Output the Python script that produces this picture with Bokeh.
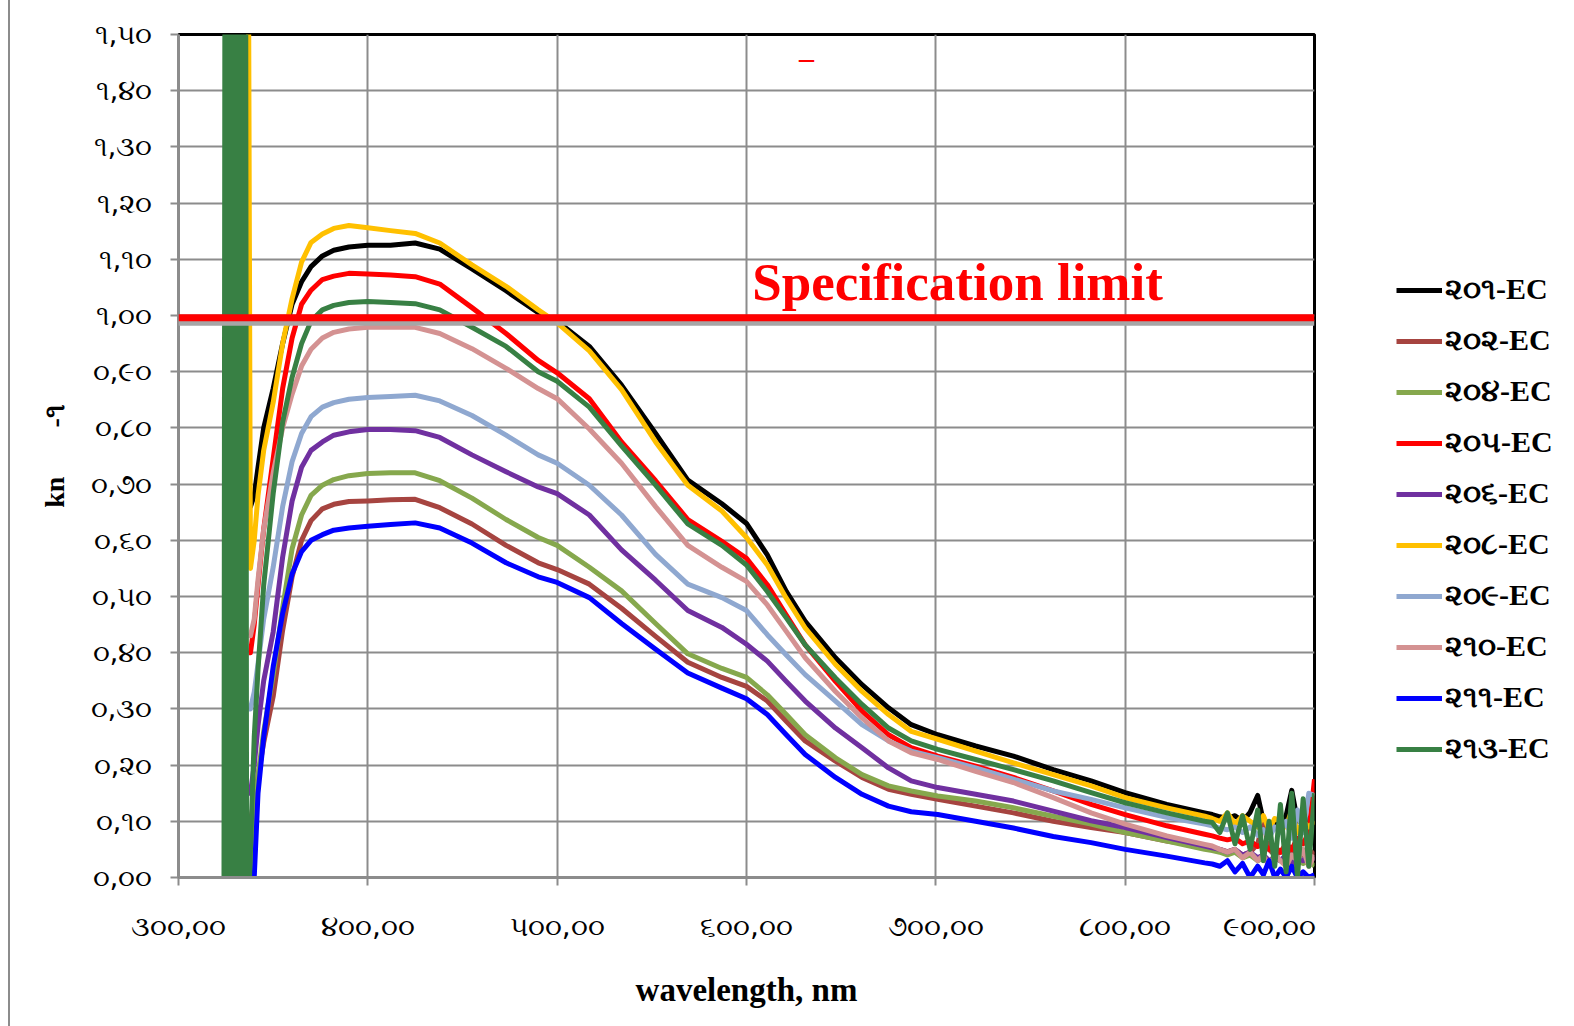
from bokeh.plotting import figure
from bokeh.layouts import row
from bokeh.models import Range1d, FixedTicker, Legend, LegendItem, Label, Span
from bokeh.embed import file_html
from bokeh.resources import INLINE

# ---------------- data ----------------
SERIES = ["૨૦૧-EC", "૨૦૨-EC", "૨૦૪-EC", "૨૦૫-EC", "૨૦૬-EC",
          "૨૦૮-EC", "૨૦૯-EC", "૨૧૦-EC", "૨૧૧-EC", "૨૧૩-EC"]
COLORS = ["#000000", "#A64440", "#86A84D", "#FF0000", "#7030A0",
          "#FFC000", "#8FA8D0", "#D49292", "#0000FF", "#388044"]

WL = [337, 338, 340, 342, 345, 350, 355, 360, 365, 370, 376, 382, 390, 400,
      412, 425, 438, 455, 473, 490, 500, 517, 534, 552, 569, 587, 600, 611,
      621, 631, 647, 661, 675, 687, 701, 721, 741, 762, 782, 800, 822, 842]

S201 = [0.66, 0.66, 0.68, 0.73, 0.80, 0.87, 0.95, 1.02, 1.06, 1.087, 1.106, 1.116, 1.122, 1.125,
        1.125, 1.129, 1.118, 1.083, 1.044, 1.005, 0.99, 0.945, 0.876, 0.79, 0.707, 0.665, 0.63, 0.574,
        0.509, 0.456, 0.391, 0.343, 0.302, 0.272, 0.254, 0.234, 0.216, 0.192, 0.172, 0.151, 0.13, 0.115]
S202 = [0.10, 0.10, 0.14, 0.18, 0.24, 0.322, 0.44, 0.535, 0.60, 0.635, 0.656, 0.664, 0.669, 0.67,
        0.672, 0.673, 0.658, 0.629, 0.591, 0.56, 0.548, 0.522, 0.479, 0.429, 0.383, 0.356, 0.34, 0.314,
        0.278, 0.243, 0.207, 0.178, 0.157, 0.148, 0.139, 0.127, 0.115, 0.10, 0.089, 0.08, 0.065, 0.055]
S204 = [-0.05, 0.0, 0.10, 0.18, 0.26, 0.36, 0.48, 0.585, 0.645, 0.68, 0.698, 0.708, 0.715, 0.719,
        0.72, 0.72, 0.706, 0.675, 0.637, 0.605, 0.591, 0.552, 0.51, 0.452, 0.398, 0.372, 0.356, 0.325,
        0.29, 0.254, 0.213, 0.183, 0.163, 0.154, 0.145, 0.136, 0.124, 0.109, 0.095, 0.08, 0.065, 0.05]
S205 = [0.40, 0.40, 0.45, 0.52, 0.62, 0.745, 0.87, 0.96, 1.02, 1.045, 1.064, 1.07, 1.075, 1.074,
        1.072, 1.069, 1.056, 1.014, 0.968, 0.92, 0.898, 0.852, 0.775, 0.706, 0.637, 0.598, 0.568, 0.521,
        0.467, 0.414, 0.349, 0.296, 0.254, 0.231, 0.216, 0.198, 0.178, 0.154, 0.13, 0.112, 0.092, 0.077]
S206 = [0.15, 0.15, 0.20, 0.27, 0.35, 0.437, 0.57, 0.67, 0.73, 0.76, 0.775, 0.787, 0.793, 0.797,
        0.797, 0.795, 0.783, 0.752, 0.722, 0.695, 0.683, 0.645, 0.583, 0.529, 0.475, 0.445, 0.415, 0.385,
        0.349, 0.314, 0.266, 0.231, 0.195, 0.172, 0.16, 0.148, 0.136, 0.118, 0.101, 0.089, 0.071, 0.056]
S208 = [1.60, 0.55, 0.60, 0.68, 0.76, 0.845, 0.95, 1.03, 1.095, 1.13, 1.145, 1.155, 1.16, 1.156,
        1.151, 1.146, 1.129, 1.09, 1.052, 1.01, 0.987, 0.937, 0.868, 0.775, 0.698, 0.652, 0.605, 0.556,
        0.497, 0.444, 0.379, 0.331, 0.29, 0.26, 0.246, 0.225, 0.204, 0.183, 0.163, 0.142, 0.124, 0.109]
S209 = [0.30, 0.30, 0.33, 0.38, 0.46, 0.552, 0.66, 0.74, 0.79, 0.82, 0.837, 0.845, 0.851, 0.854,
        0.856, 0.858, 0.848, 0.822, 0.787, 0.752, 0.737, 0.698, 0.645, 0.575, 0.522, 0.498, 0.475, 0.432,
        0.396, 0.361, 0.314, 0.272, 0.243, 0.225, 0.213, 0.195, 0.175, 0.154, 0.139, 0.124, 0.107, 0.095]
S210 = [0.43, 0.43, 0.46, 0.53, 0.62, 0.72, 0.80, 0.86, 0.91, 0.94, 0.96, 0.97, 0.976, 0.979,
        0.979, 0.979, 0.968, 0.941, 0.906, 0.87, 0.852, 0.798, 0.737, 0.66, 0.591, 0.552, 0.527, 0.485,
        0.438, 0.391, 0.331, 0.284, 0.243, 0.222, 0.21, 0.189, 0.169, 0.142, 0.115, 0.095, 0.074, 0.059]
S211 = [-0.05, -0.05, 0.0, 0.15, 0.25, 0.375, 0.47, 0.54, 0.58, 0.60, 0.61, 0.618, 0.622, 0.625,
        0.628, 0.631, 0.622, 0.595, 0.56, 0.535, 0.525, 0.498, 0.452, 0.406, 0.364, 0.337, 0.318, 0.29,
        0.254, 0.219, 0.178, 0.148, 0.127, 0.117, 0.112, 0.10, 0.088, 0.073, 0.062, 0.05, 0.038, 0.026]
S213 = [-0.05, 0.05, 0.25, 0.37, 0.52, 0.683, 0.81, 0.89, 0.95, 0.99, 1.01, 1.018, 1.023, 1.025,
        1.023, 1.021, 1.01, 0.979, 0.945, 0.90, 0.883, 0.837, 0.768, 0.698, 0.629, 0.591, 0.556, 0.509,
        0.462, 0.414, 0.355, 0.308, 0.266, 0.243, 0.228, 0.21, 0.192, 0.172, 0.151, 0.133, 0.115, 0.10]

TAIL_WL = [846, 850, 854, 858, 862, 866, 870, 873, 876, 879, 882, 885, 888, 891, 894, 897, 900]
T201 = [0.112, 0.108, 0.105, 0.11, 0.10, 0.116, 0.146, 0.10, 0.09, 0.10, 0.09, 0.11, 0.155, 0.10, 0.12, 0.09, 0.10]
T202 = [0.052, 0.05, 0.046, 0.05, 0.04, 0.045, 0.06, 0.10, 0.05, 0.04, 0.045, 0.05, 0.04, 0.05, 0.04, 0.05, 0.04]
T204 = [0.048, 0.045, 0.04, 0.045, 0.035, 0.04, 0.03, 0.035, 0.025, 0.04, 0.03, 0.035, 0.02, 0.03, 0.025, 0.03, 0.02]
T205 = [0.074, 0.07, 0.067, 0.07, 0.06, 0.065, 0.055, 0.06, 0.05, 0.055, 0.045, 0.06, 0.05, 0.07, 0.06, 0.08, 0.175]
T206 = [0.053, 0.05, 0.045, 0.05, 0.04, 0.045, 0.035, 0.04, 0.03, 0.035, 0.03, 0.04, 0.025, 0.035, 0.03, 0.04, 0.03]
T208 = [0.105, 0.10, 0.115, 0.095, 0.11, 0.10, 0.09, 0.11, 0.085, 0.105, 0.10, 0.09, 0.12, 0.08, 0.10, 0.09, 0.10]
T209 = [0.092, 0.088, 0.085, 0.09, 0.08, 0.09, 0.075, 0.085, 0.07, 0.09, 0.08, 0.10, 0.07, 0.12, 0.08, 0.15, 0.146]
T210 = [0.056, 0.05, 0.045, 0.05, 0.035, 0.045, 0.03, 0.04, 0.02, 0.04, 0.03, 0.02, 0.04, 0.03, 0.05, 0.02, 0.04]
T211 = [0.024, 0.02, 0.03, 0.01, 0.025, 0.0, 0.02, 0.005, 0.03, 0.0, 0.015, 0.0, 0.02, 0.0, 0.01, 0.0, 0.005]
T213 = [0.098, 0.08, 0.115, 0.06, 0.11, 0.05, 0.12, 0.03, 0.10, 0.02, 0.13, 0.01, 0.15, 0.0, 0.14, 0.02, 0.15]

# detector noise band below ~337 nm (off-scale oscillation), series 213
SPIKE_WL = [324.0, 324.5, 325.0, 325.5, 326.0, 326.5, 327.0, 327.5, 328.0, 328.5, 329.0, 329.5, 330.0,
            330.5, 331.0, 331.5, 332.0, 332.5, 333.0, 333.5, 334.0, 334.5, 335.0, 335.5, 336.0]
SPIKE_213 = [-0.1, 1.6, -0.1, 1.6, -0.1, 1.6, -0.1, 1.6, -0.1, 1.6, -0.1, 1.6, -0.1,
             1.6, -0.1, 1.6, -0.1, 1.6, -0.1, 1.6, -0.1, 1.6, -0.1, 1.6, -0.1]

SPEC_LIMIT = 1.0

X_TICKS = [300, 400, 500, 600, 700, 800, 900]
X_TICK_LABELS = ["૩૦૦,૦૦", "૪૦૦,૦૦", "૫૦૦,૦૦", "૬૦૦,૦૦", "૭૦૦,૦૦", "૮૦૦,૦૦", "૯૦૦,૦૦"]
Y_TICKS = [0.0, 0.1, 0.2, 0.3, 0.4, 0.5, 0.6, 0.7, 0.8, 0.9, 1.0, 1.1, 1.2, 1.3, 1.4, 1.5]
Y_TICK_LABELS = ["૦,૦૦", "૦,૧૦", "૦,૨૦", "૦,૩૦", "૦,૪૦", "૦,૫૦", "૦,૬૦", "૦,૭૦",
                 "૦,૮૦", "૦,૯૦", "૧,૦૦", "૧,૧૦", "૧,૨૦", "૧,૩૦", "૧,૪૦", "૧,૫૦"]
Y_TITLE = "kn\u00a0\u00a0\u00a0\u00a0\u00a0\u00a0\u00a0-૧"
X_TITLE = "wavelength, nm"

MAIN = [S201, S202, S204, S205, S206, S208, S209, S210, S211, S213]
TAILS = [T201, T202, T204, T205, T206, T208, T209, T210, T211, T213]

# ---------------- main figure ----------------
H = 1026
W_MAIN = 1308          # page x 10..1318 (after 8 px margin + 2 px border)
W_LEG = 256            # page x 1318..1574
p = figure(width=W_MAIN, height=H, output_backend="svg", toolbar_location=None,
           x_range=Range1d(300, 900), y_range=Range1d(0, 1.5),
           min_border_left=168, min_border_right=4,
           min_border_top=34, min_border_bottom=H - 877,
           styles={"margin-left": "8px", "border-left": "2px solid #8c8c8c"})
p.background_fill_color = "white"
p.border_fill_color = "white"
p.outline_line_color = "black"
p.outline_line_width = 3

p.xaxis.ticker = FixedTicker(ticks=X_TICKS)
p.yaxis.ticker = FixedTicker(ticks=Y_TICKS)
p.xaxis.major_label_overrides = dict(zip(X_TICKS, X_TICK_LABELS))
p.yaxis.major_label_overrides = dict(zip(Y_TICKS, Y_TICK_LABELS))
for ax in (p.xaxis, p.yaxis):
    ax.axis_line_color = "#8c8c8c"
    ax.axis_line_width = 3
    ax.major_tick_line_color = "#8c8c8c"
    ax.major_tick_line_width = 2
    ax.major_tick_out = 8
    ax.major_tick_in = 0
    ax.minor_tick_line_color = None
    ax.major_label_text_font = "DejaVu Sans"
    ax.major_label_text_font_size = "28px"
    ax.major_label_text_color = "black"
p.xaxis.major_label_standoff = 24
p.yaxis.major_label_standoff = 18

p.xaxis.axis_label = X_TITLE
p.xaxis.axis_label_text_font = "Liberation Serif"
p.xaxis.axis_label_text_font_style = "bold"
p.xaxis.axis_label_text_font_size = "33px"
p.xaxis.axis_label_text_color = "black"
p.xaxis.axis_label_standoff = 26

p.yaxis.axis_label = Y_TITLE
p.yaxis.axis_label_text_font = "Liberation Serif"
p.yaxis.axis_label_text_font_style = "bold"
p.yaxis.axis_label_text_font_size = "28px"
p.yaxis.axis_label_text_color = "black"
p.yaxis.axis_label_standoff = 18

p.grid.grid_line_color = "#8c8c8c"
p.grid.grid_line_width = 2

# specification limit line with its shadow
p.add_layout(Span(location=SPEC_LIMIT - 0.013, dimension="width",
                  line_color="#a6a6a6", line_width=6))
p.add_layout(Span(location=SPEC_LIMIT - 0.004, dimension="width",
                  line_color="#FF0000", line_width=7))

# ---------------- legend panel ----------------
pl = figure(width=W_LEG, height=H, output_backend="svg", toolbar_location=None,
            x_range=Range1d(0, 1), y_range=Range1d(0, 1),
            x_axis_type=None, y_axis_type=None, min_border=0)
pl.grid.visible = False
pl.outline_line_color = None
pl.background_fill_color = "white"
pl.border_fill_color = "white"

items = []
for name, col, main, tail in zip(SERIES, COLORS, MAIN, TAILS):
    xs = WL + TAIL_WL
    ys = main + tail
    if name == SERIES[-1]:
        xs = SPIKE_WL + xs
        ys = SPIKE_213 + ys
    p.line(xs, ys, line_color=col, line_width=5, line_join="round")
    # same series in the legend panel (its range shows none of the data; used only for the key)
    r = pl.line(xs, ys, line_color=col, line_width=5, line_join="round")
    items.append(LegendItem(label=name, renderers=[r]))

legend = Legend(items=items, location=(80, 111),
                label_text_font="Liberation Serif", label_text_font_style="bold",
                label_text_font_size="30px", label_text_color="black",
                glyph_width=46, glyph_height=34, label_height=34,
                label_standoff=3, spacing=16, padding=0, margin=0,
                background_fill_alpha=0, border_line_color=None)
pl.add_layout(legend, "center")

p.add_layout(Label(x=603, y=1.059, text="Specification limit", text_color="#FF0000",
                   text_font="Liberation Serif", text_font_style="bold",
                   text_font_size="53px", text_baseline="alphabetic"))
p.add_layout(Label(x=631.7, y=1.459, text="–", text_color="#FF0000",
                   text_font="Liberation Serif", text_font_style="bold",
                   text_font_size="30px", text_align="center", text_baseline="middle"))

layout = row(p, pl)
open("out.html", "w").write(file_html(layout, INLINE))
